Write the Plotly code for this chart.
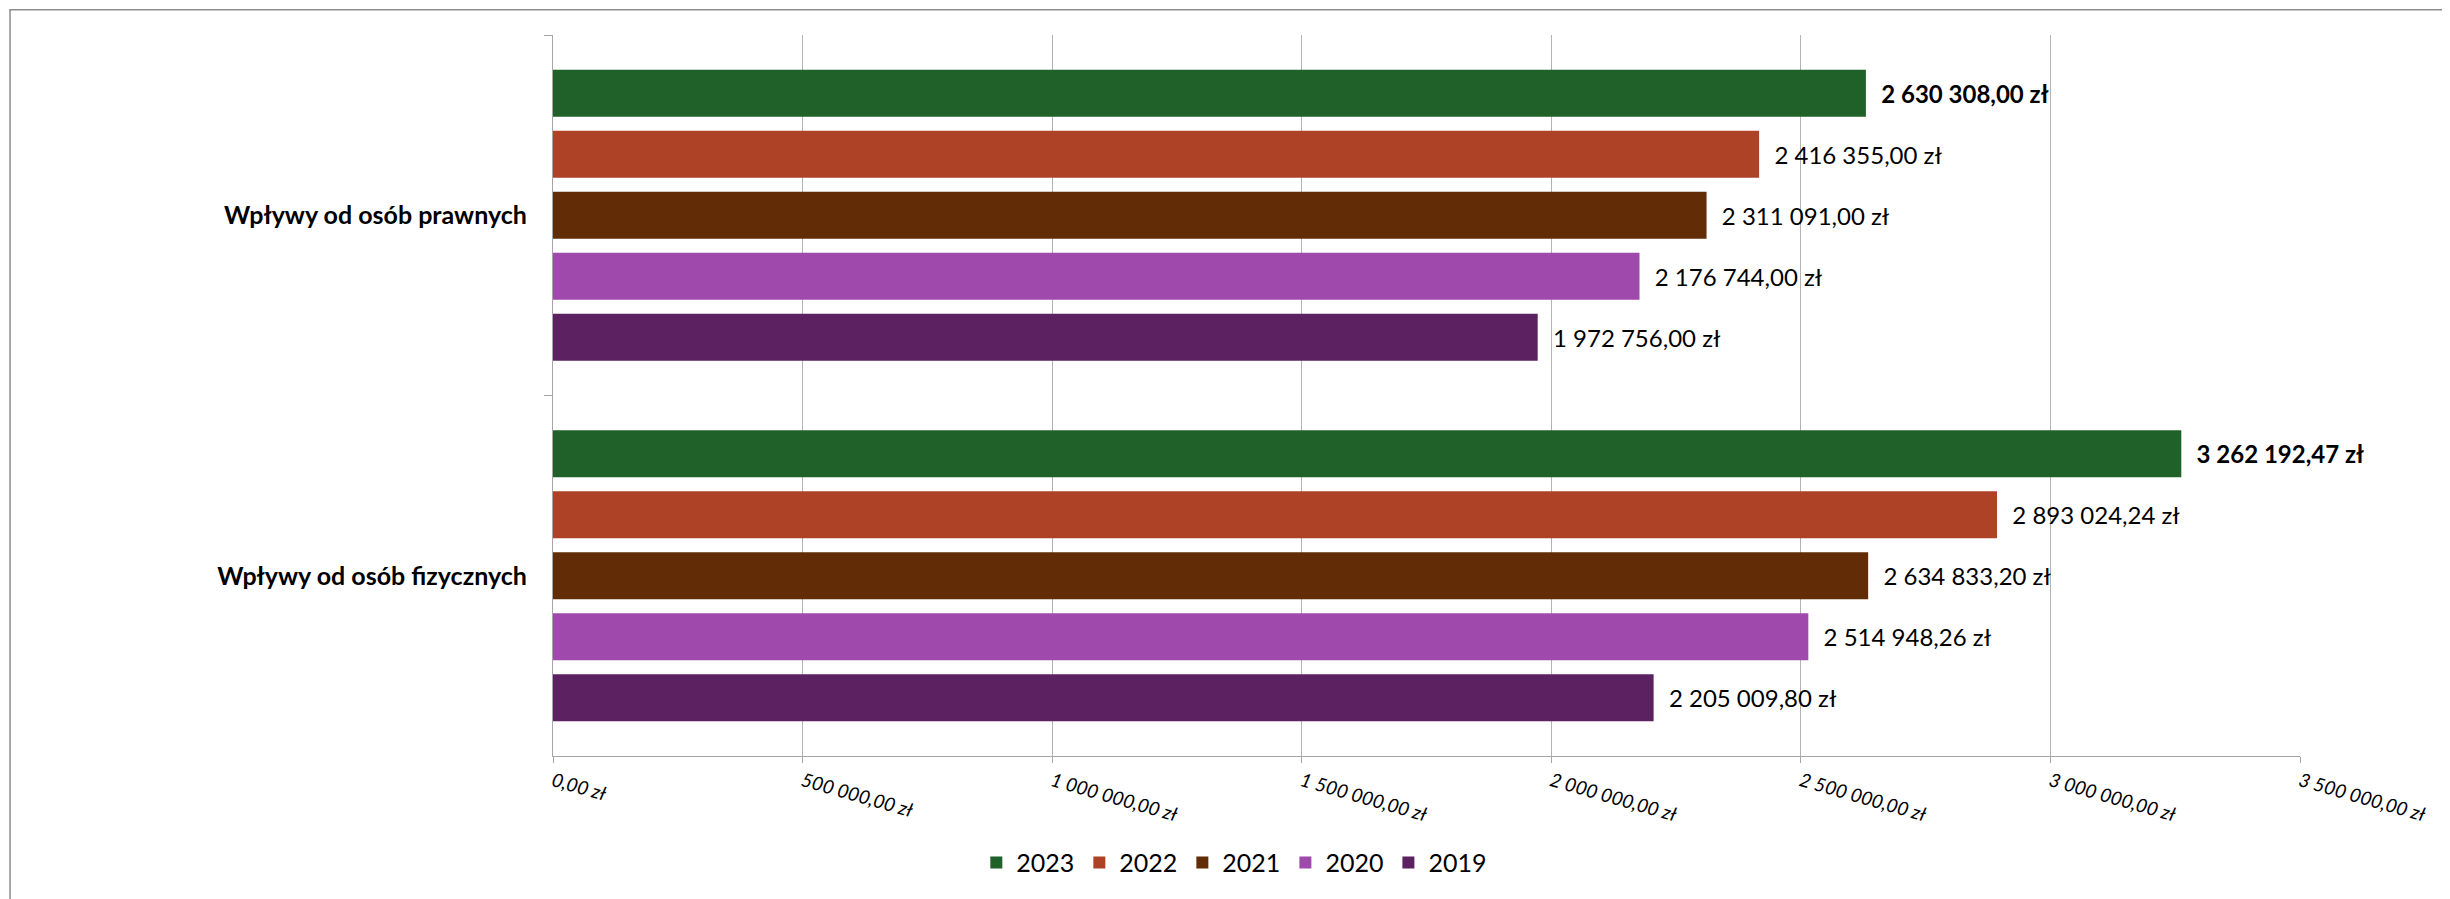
import plotly.graph_objects as go

categories = ["Wpływy od osób prawnych", "Wpływy od osób fizycznych"]
years = ["2023", "2022", "2021", "2020", "2019"]
values_2023 = [2630308.00, 3262192.47]
values_2022 = [2416355.00, 2893024.24]
values_2021 = [2311091.00, 2634833.20]
values_2020 = [2176744.00, 2514948.26]
values_2019 = [1972756.00, 2205009.80]
series = [values_2023, values_2022, values_2021, values_2020, values_2019]
colors = ["#1F6128", "#AE4227", "#622D06", "#A049AC", "#5B2160"]
x_ticks = [0, 500000, 1000000, 1500000, 2000000, 2500000, 3000000, 3500000]


def pln(v):
    return f"{v:,.2f}".replace(",", " ").replace(".", ",") + " zł"


x_ticktext = [pln(v) for v in x_ticks]

FONT = "Lato, 'Open Sans', sans-serif"

fig = go.Figure()
for i, (yr, vals, col) in enumerate(zip(years, series, colors)):
    tmpl = "\u00a0\u00a0%{x:,.2f} zł"
    if i == 0:
        tmpl = "\u00a0\u00a0<b>%{x:,.2f} zł</b>"
    fig.add_trace(go.Bar(
        name=yr,
        y=categories,
        x=vals,
        orientation="h",
        marker=dict(color=col, line=dict(width=0)),
        texttemplate=tmpl,
        textposition="outside",
        textfont=dict(family=FONT, size=24, color="#000000"),
        constraintext="none",
        cliponaxis=False,
    ))

fig.update_layout(
    width=2442,
    height=891,
    barmode="group",
    bargap=0.154,
    bargroupgap=0.2295,
    separators=", ",
    paper_bgcolor="white",
    plot_bgcolor="white",
    margin=dict(l=545, r=150, t=27, b=143),
    font=dict(family=FONT, color="#000000"),
    showlegend=True,
    legend=dict(
        orientation="h",
        x=0.39, xanchor="center",
        y=-0.148, yanchor="middle",
        font=dict(family=FONT, size=25, color="#000000"),
        traceorder="normal",
    ),
    xaxis=dict(
        range=[0, 3500000],
        tickmode="array",
        tickvals=x_ticks,
        ticktext=x_ticktext,
        tickangle=16,
        tickfont=dict(family=FONT, size=19, color="#000000", style="italic"),
        showgrid=True,
        gridcolor="#B3B3B3",
        gridwidth=1.3,
        showline=True,
        linecolor="#A6A6A6",
        linewidth=1.3,
        ticks="outside",
        ticklen=6,
        tickcolor="#A6A6A6",
        zeroline=False,
    ),
    yaxis=dict(
        categoryorder="array",
        categoryarray=categories,
        range=[1.5, -0.5],
        tickson="boundaries",
        ticks="outside",
        ticklen=8,
        tickcolor="#A6A6A6",
        showline=True,
        linecolor="#A6A6A6",
        linewidth=1.3,
        showgrid=False,
        tickfont=dict(family=FONT, size=25, color="#000000", weight="bold"),
        ticklabelstandoff=20,
    ),
    shapes=[dict(
        type="rect", xref="paper", yref="paper",
        x0=-0.3108, x1=1.095, y0=-0.21, y1=1.035,
        line=dict(color="#8C8C8C", width=1.5),
        fillcolor="rgba(0,0,0,0)",
        layer="above",
    )],
)

fig.write_html("out.html")
